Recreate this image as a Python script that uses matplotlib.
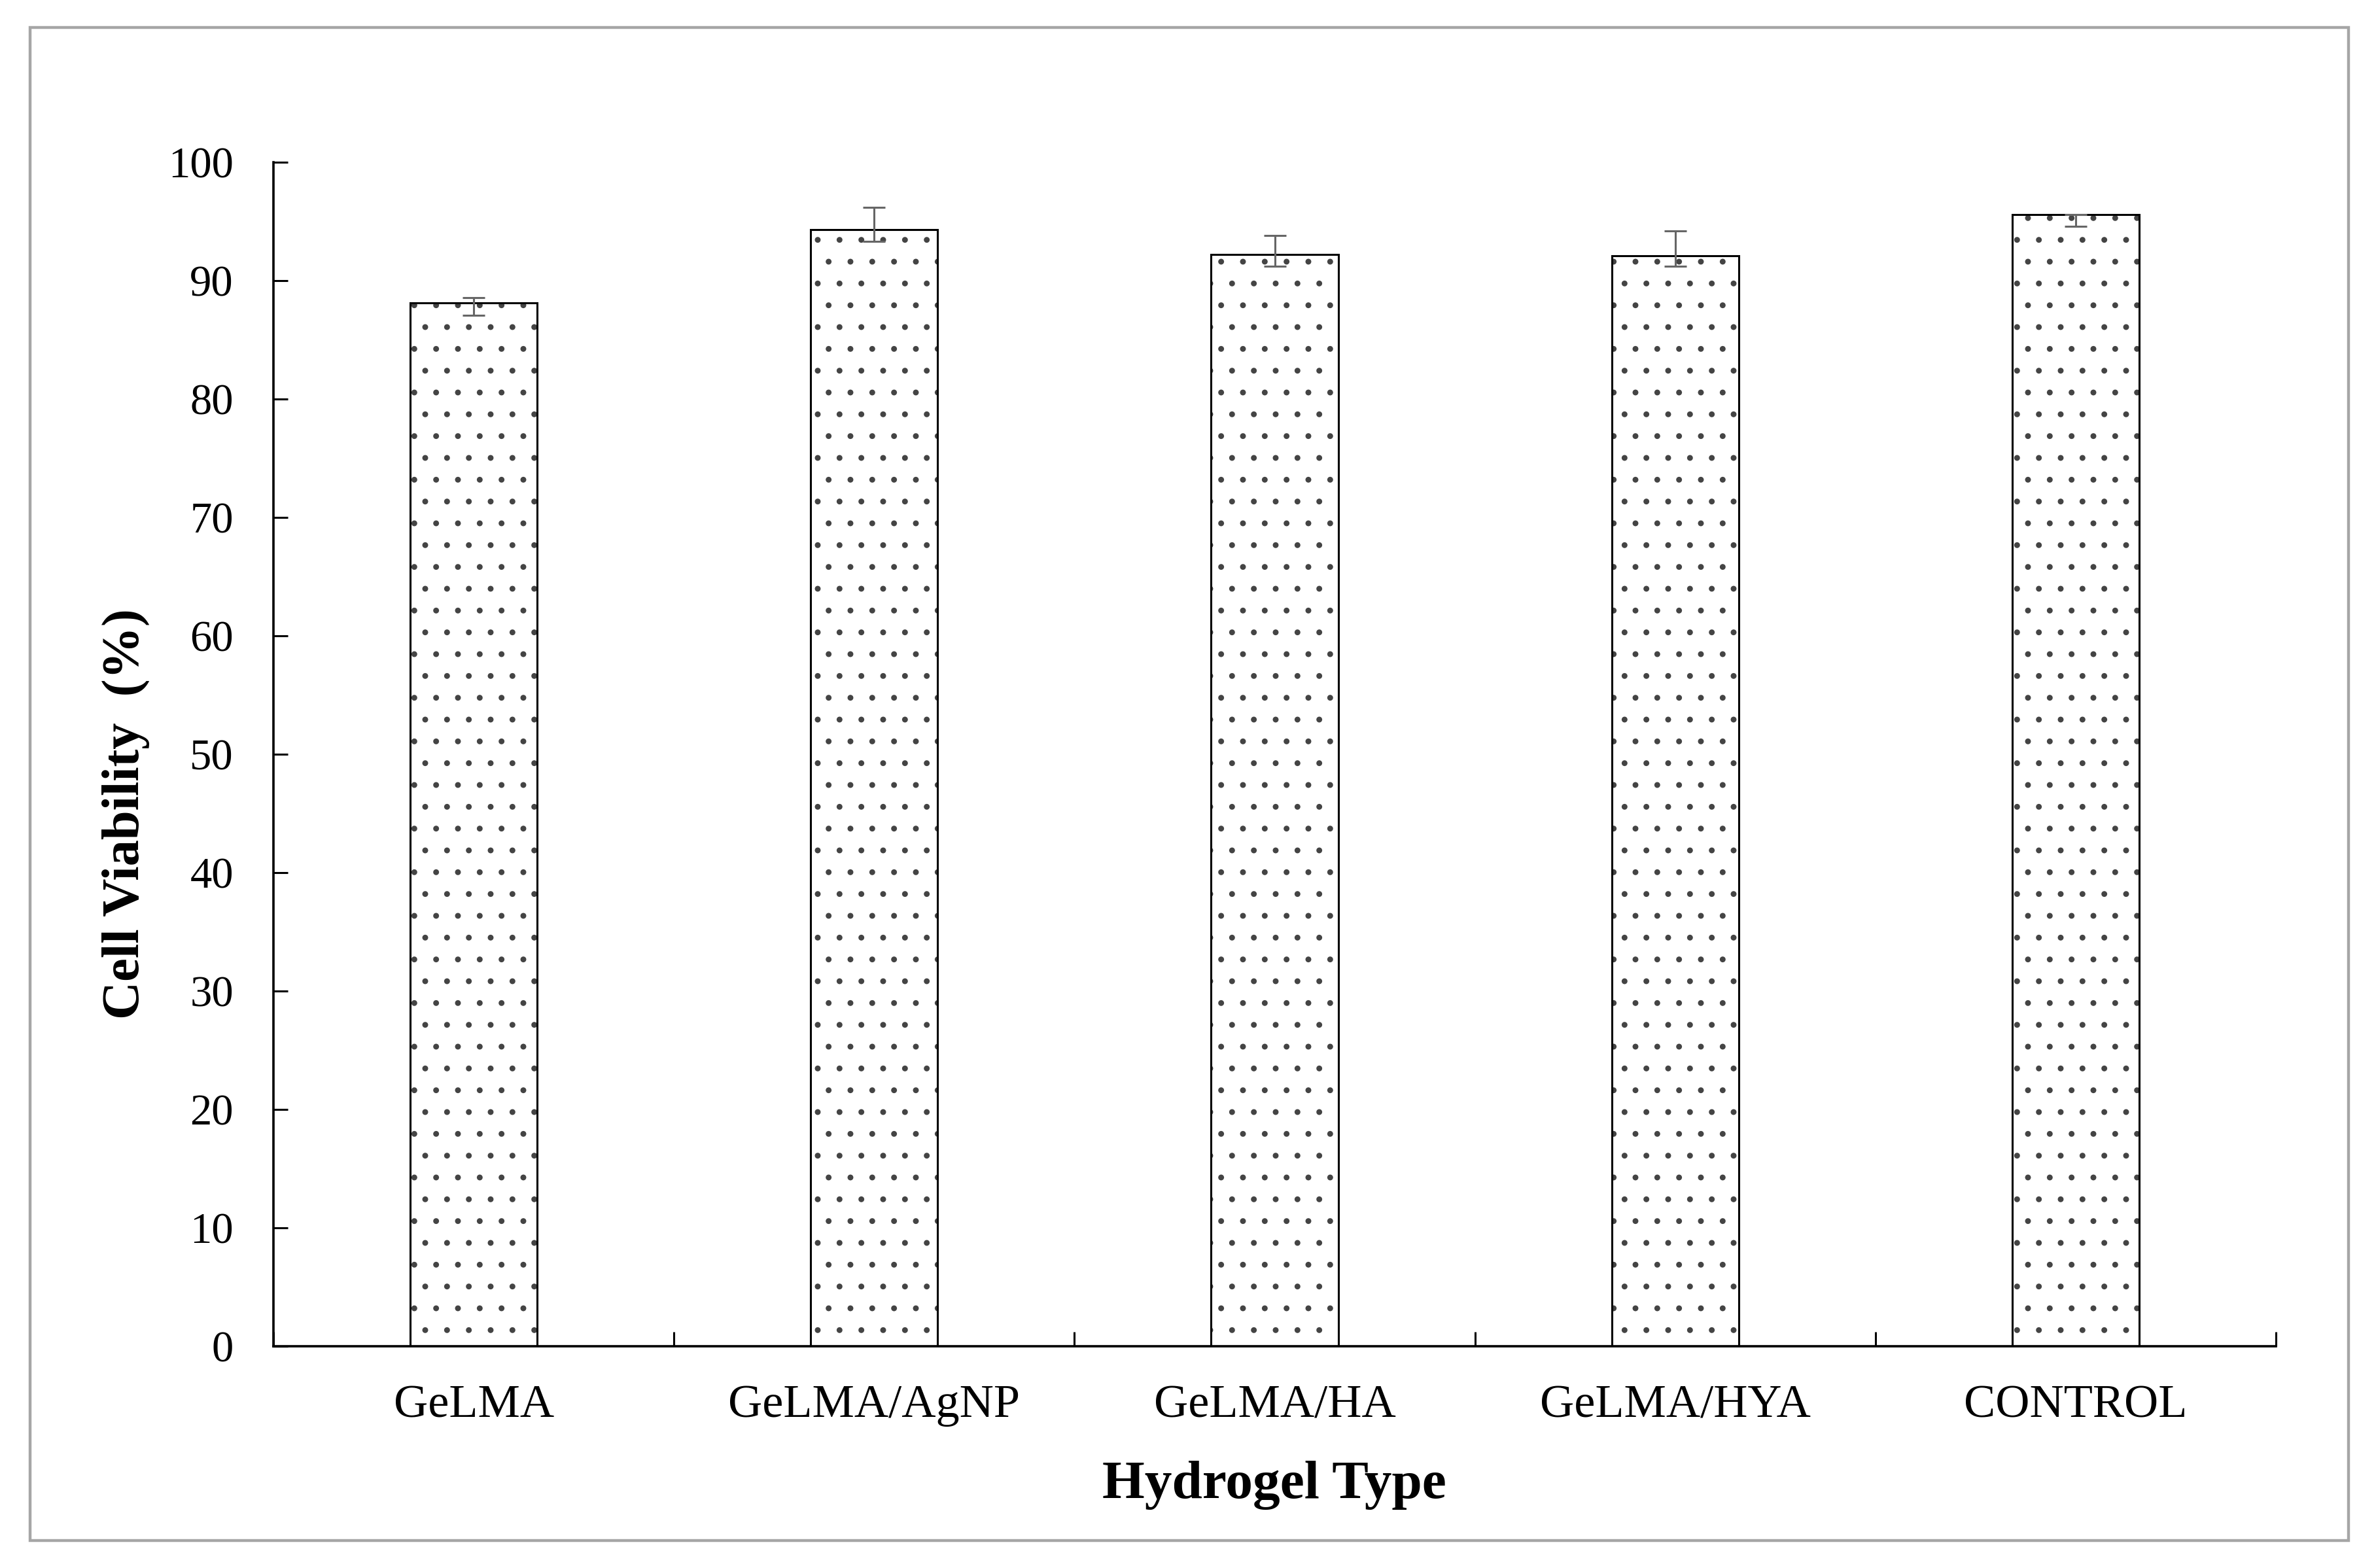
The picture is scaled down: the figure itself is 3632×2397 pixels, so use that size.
import matplotlib
matplotlib.use("Agg")
import matplotlib.pyplot as plt
from matplotlib.patches import Rectangle

plt.rcParams['font.family'] = ['Liberation Serif', 'DejaVu Serif']
plt.rcParams['hatch.linewidth'] = 0.8

# data
groups = ["GeLMA", "GeLMA/AgNP", "GeLMA/HA", "GeLMA/HYA", "CONTROL"]
viability = [88.1, 94.3, 92.2, 92.1, 95.6]
err_low = [1.05, 1.0, 1.0, 0.9, 1.0]
err_high = [0.45, 1.9, 1.6, 2.1, 0.0]
yticks = [0, 10, 20, 30, 40, 50, 60, 70, 80, 90, 100]

W, H = 3632, 2397
dpi = 200
fig = plt.figure(figsize=(W / dpi, H / dpi), dpi=dpi)

# grey frame around the whole chart
fig.patches.append(Rectangle((46 / W, 1 - 2355 / H), (3590 - 46) / W, (2355 - 42) / H,
                             transform=fig.transFigure, fill=False,
                             edgecolor='#a6a6a6', linewidth=1.6))

ax = fig.add_axes([418 / W, 1 - 2058 / H, (3479 - 418) / W, (2058 - 248) / H])

x = list(range(len(groups)))
# texture first (hatch takes the edge colour), then the black outline on top
ax.bar(x, viability, width=0.317, color='white', edgecolor='#444444',
       linewidth=0, hatch='.', zorder=2)
ax.bar(x, viability, width=0.317, fill=False, edgecolor='black',
       linewidth=1.1, zorder=2.5)
ax.errorbar(x, viability, yerr=[err_low, err_high], fmt='none',
            ecolor='#666666', elinewidth=1.1, capsize=6, capthick=1.1, zorder=3)

ax.set_xlim(-0.5, len(groups) - 0.5)
ax.set_ylim(0, 100)
ax.set_yticks(yticks)
ax.set_xticks(x)
ax.set_xticklabels(groups)
ax.set_xticks([i - 0.5 for i in range(len(groups) + 1)], minor=True)

ax.spines['top'].set_visible(False)
ax.spines['right'].set_visible(False)
ax.spines['left'].set_linewidth(1.3)
ax.spines['bottom'].set_linewidth(1.3)

ax.tick_params(axis='x', which='major', length=0, pad=21, labelsize=26)
ax.tick_params(axis='x', which='minor', direction='in', length=8, width=1.1)
ax.tick_params(axis='y', direction='in', length=8, width=1.1, pad=22, labelsize=24)

fig.text(1948 / W, 1 - 2270 / H, "Hydrogel Type", ha='center', va='center',
         fontsize=30, fontweight='bold')
fig.text(192 / W, 1 - 1244 / H, "Cell Viability  (%)", ha='center', va='center',
         rotation=90, fontsize=29, fontweight='bold')

fig.savefig("out.png", dpi=dpi, facecolor='white')
